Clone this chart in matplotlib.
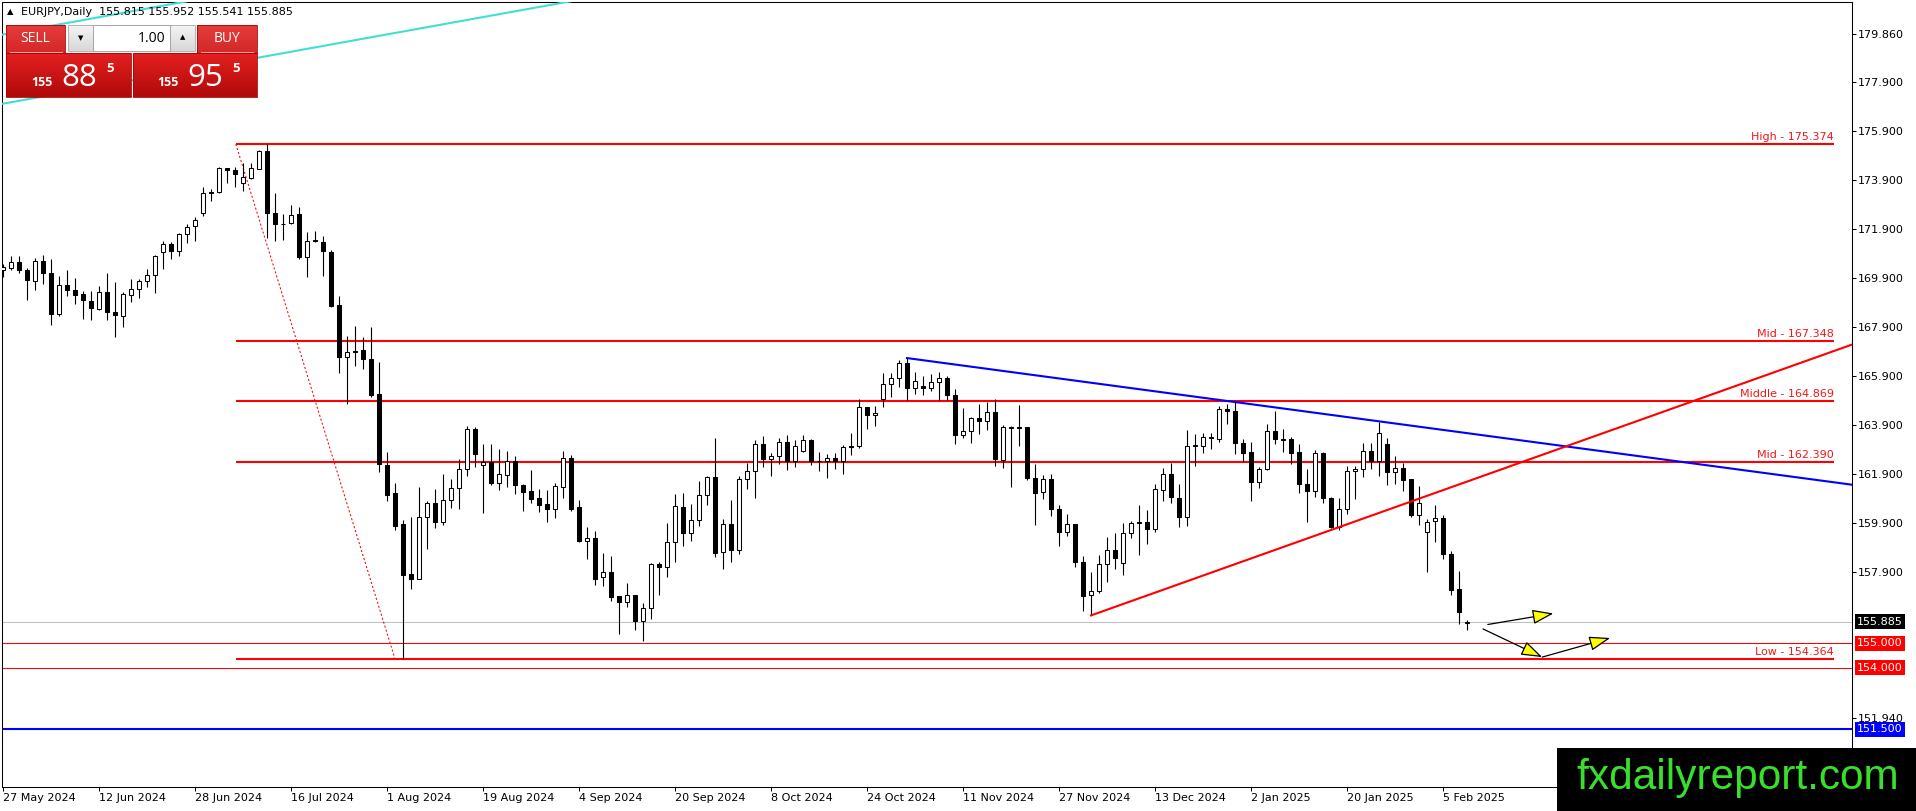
import numpy as np
import pandas as pd
import matplotlib
matplotlib.use('Agg')
import matplotlib.pyplot as plt
import matplotlib.transforms as mtransforms
from matplotlib.patches import Rectangle, FancyArrowPatch

plt.rcParams['font.family'] = ['DejaVu Sans']

# daily EURJPY candles, 27 May 2024 .. 10 Feb 2025
opens = [170.24, 170.31, 170.56, 170.25, 169.77, 170.61, 170.11, 168.44, 169.64, 169.42,
         169.27, 168.97, 168.66, 169.34, 168.54, 168.35, 169.20, 169.46, 169.77, 170.03,
         170.95, 171.30, 170.99, 171.69, 172.02, 172.55, 173.43, 173.40, 174.38, 174.31,
         173.78, 173.98, 174.35, 175.08, 172.56, 172.12, 172.15, 172.52, 170.77, 171.44,
         171.38, 170.97, 168.82, 166.70, 166.93, 166.95, 166.62, 165.16, 162.27, 161.14,
         159.86, 157.83, 157.64, 160.14, 160.73, 159.96, 160.83, 161.32, 162.13, 163.74,
         162.26, 162.39, 161.55, 161.89, 162.46, 161.45, 161.21, 160.92, 160.68, 160.47,
         161.39, 162.58, 160.57, 159.19, 159.29, 157.72, 157.92, 156.92, 156.70, 156.99,
         155.92, 156.46, 158.22, 158.12, 159.13, 160.55, 159.50, 160.04, 161.04, 161.77,
         158.73, 159.86, 158.80, 161.69, 162.03, 163.15, 162.53, 162.63, 163.23, 162.43,
         162.84, 163.28, 162.45, 162.44, 162.58, 162.44, 163.06, 163.05, 164.63, 164.30,
         164.96, 165.60, 165.82, 166.43, 165.40, 165.50, 165.40, 165.67, 165.82, 165.12,
         163.51, 163.68, 164.18, 164.08, 164.45, 162.50, 163.84, 163.82, 163.81, 161.76,
         161.16, 161.72, 160.49, 159.53, 159.88, 158.32, 156.97, 157.13, 158.24, 158.81,
         158.28, 159.50, 159.95, 159.94, 159.66, 161.26, 161.93, 160.92, 160.17, 163.06,
         163.06, 163.38, 163.33, 164.57, 164.50, 163.19, 162.80, 161.60, 162.10, 163.65,
         163.35, 163.33, 162.80, 161.49, 161.23, 162.78, 160.92, 159.73, 160.47, 162.03,
         162.10, 162.84, 162.45, 163.15, 162.00, 162.14, 161.70, 160.24, 159.54, 160.00,
         160.10, 158.66, 157.20, 155.815]
highs = [170.49, 170.79, 170.79, 170.31, 170.71, 170.84, 170.68, 170.00, 170.25, 169.90,
         169.36, 169.36, 169.57, 170.11, 169.74, 169.32, 169.86, 169.86, 170.28, 170.86,
         171.42, 171.36, 171.76, 172.12, 172.38, 173.60, 173.54, 174.45, 174.40, 174.45,
         174.59, 174.59, 175.12, 175.374, 173.37, 172.52, 172.90, 172.80, 171.79, 171.83,
         171.62, 171.05, 169.18, 167.56, 167.96, 167.48, 167.92, 166.50, 162.81, 161.55,
         160.03, 160.14, 161.36, 160.80, 161.28, 161.93, 161.72, 162.51, 163.86, 163.82,
         163.15, 163.12, 162.95, 162.84, 162.65, 161.50, 162.09, 161.28, 161.25, 161.56,
         162.84, 162.67, 160.84, 159.73, 159.59, 158.69, 158.58, 156.92, 157.47, 156.99,
         156.63, 158.28, 158.32, 159.93, 161.09, 161.12, 160.67, 161.62, 161.82, 163.39,
         160.08, 160.85, 161.82, 162.34, 163.31, 163.48, 162.77, 163.39, 163.52, 163.31,
         163.52, 163.35, 162.81, 162.71, 162.78, 163.08, 163.60, 164.96, 164.66, 164.70,
         166.05, 166.05, 166.57, 166.64, 166.09, 165.91, 165.99, 166.08, 165.91, 165.37,
         164.59, 164.25, 164.75, 164.83, 164.96, 163.91, 163.87, 164.72, 163.81, 162.33,
         161.86, 161.93, 160.63, 160.26, 159.88, 158.58, 157.91, 158.62, 159.34, 159.50,
         159.93, 159.98, 160.63, 160.44, 161.50, 162.14, 162.37, 161.49, 163.72, 163.55,
         163.58, 163.58, 164.67, 164.75, 164.83, 163.35, 163.22, 162.18, 163.96, 164.48,
         163.73, 163.42, 163.12, 162.13, 162.91, 162.81, 160.99, 160.92, 162.23, 162.23,
         163.18, 163.18, 164.03, 163.39, 162.64, 162.37, 161.70, 161.42, 160.07, 160.65,
         160.24, 158.78, 157.97, 155.952]
lows = [169.95, 170.22, 170.11, 169.00, 169.40, 169.68, 167.98, 168.35, 169.16, 168.86,
        168.25, 168.21, 168.59, 168.21, 167.50, 167.90, 168.92, 169.08, 169.54, 169.30,
        170.27, 170.68, 170.79, 171.33, 171.40, 172.44, 173.05, 173.36, 173.77, 173.63,
        173.45, 173.95, 174.35, 171.54, 171.42, 171.46, 172.10, 170.69, 169.96, 171.38,
        170.00, 168.74, 166.05, 164.75, 166.30, 166.18, 165.04, 161.99, 160.81, 159.62,
        154.364, 157.23, 157.61, 158.86, 159.71, 159.82, 160.54, 160.49, 161.83, 162.20,
        160.33, 161.48, 161.25, 161.39, 161.09, 160.41, 160.73, 160.37, 159.96, 160.12,
        160.95, 160.41, 159.14, 158.44, 157.38, 157.34, 156.73, 155.40, 156.50, 155.55,
        155.11, 155.99, 156.96, 157.70, 158.34, 158.96, 159.16, 159.80, 160.66, 158.51,
        158.04, 158.31, 158.66, 161.31, 160.95, 162.20, 161.84, 162.30, 162.09, 162.20,
        162.81, 162.27, 162.03, 161.76, 162.11, 161.93, 162.68, 162.98, 163.73, 163.88,
        164.63, 165.04, 165.45, 164.93, 165.16, 165.14, 165.31, 164.93, 164.93, 163.13,
        163.36, 163.18, 163.54, 163.70, 162.25, 162.17, 161.38, 163.06, 161.68, 159.84,
        160.90, 160.18, 158.99, 159.40, 158.10, 156.32, 156.14, 157.06, 157.51, 158.04,
        157.78, 159.29, 158.59, 159.05, 159.56, 160.81, 160.71, 159.74, 159.77, 162.23,
        162.77, 162.92, 163.22, 163.94, 162.74, 162.41, 160.82, 161.32, 162.07, 163.12,
        162.79, 162.31, 161.12, 159.97, 160.99, 160.71, 159.70, 159.63, 160.27, 160.88,
        161.80, 162.11, 161.84, 161.46, 161.49, 161.23, 160.15, 159.84, 157.90, 159.12,
        158.44, 156.97, 155.78, 155.541]
closes = [170.35, 170.56, 170.22, 169.81, 170.61, 170.11, 168.43, 169.64, 169.40, 169.23,
          169.00, 168.67, 169.34, 168.52, 168.40, 169.27, 169.45, 169.78, 170.01, 170.82,
          171.29, 171.00, 171.69, 172.00, 172.28, 173.36, 173.39, 174.38, 174.31, 174.17,
          174.02, 174.39, 175.08, 172.56, 172.11, 172.10, 172.48, 170.77, 171.42, 171.42,
          171.01, 168.78, 166.70, 166.90, 166.90, 166.62, 165.12, 162.31, 161.07, 159.80,
          157.80, 157.64, 160.14, 160.73, 159.96, 160.84, 161.32, 162.13, 163.74, 162.72,
          162.39, 161.55, 161.91, 162.46, 161.45, 161.18, 160.88, 160.64, 160.47, 161.41,
          162.58, 160.50, 159.19, 159.29, 157.64, 157.92, 156.90, 156.70, 156.99, 155.92,
          156.46, 158.22, 158.11, 159.13, 160.60, 159.50, 160.04, 161.04, 161.77, 158.68,
          159.86, 158.80, 161.70, 162.03, 163.15, 162.53, 162.63, 163.23, 162.43, 163.04,
          163.28, 162.43, 162.44, 162.58, 162.44, 163.03, 163.00, 164.63, 164.30, 164.38,
          165.60, 165.82, 166.43, 165.40, 165.71, 165.40, 165.67, 165.82, 165.12, 163.51,
          163.68, 164.18, 164.08, 164.45, 162.53, 163.84, 163.77, 163.77, 161.75, 161.13,
          161.72, 160.48, 159.53, 159.88, 158.30, 156.95, 157.13, 158.24, 158.81, 158.48,
          159.50, 159.90, 159.90, 159.66, 161.28, 161.93, 160.96, 160.17, 163.07, 163.08,
          163.40, 163.40, 164.57, 164.48, 163.18, 162.77, 161.60, 162.11, 163.65, 163.33,
          163.30, 162.77, 161.49, 161.23, 162.78, 160.92, 159.73, 160.47, 162.03, 162.11,
          162.84, 162.45, 163.60, 162.00, 162.14, 161.66, 160.24, 160.72, 159.97, 160.10,
          158.65, 157.17, 156.28, 155.885]

dates = pd.bdate_range('2024-05-27', '2025-02-10')
dates = dates[~dates.isin(pd.to_datetime(['2024-12-25', '2025-01-01']))]

date_labels = ['27 May 2024', '12 Jun 2024', '28 Jun 2024', '16 Jul 2024', '1 Aug 2024',
               '19 Aug 2024', '4 Sep 2024', '20 Sep 2024', '8 Oct 2024', '24 Oct 2024',
               '11 Nov 2024', '27 Nov 2024', '13 Dec 2024', '2 Jan 2025', '20 Jan 2025',
               '5 Feb 2025']
price_ticks = [179.860, 177.900, 175.900, 173.900, 171.900, 169.900, 167.900,
               165.900, 163.900, 161.900, 159.900, 157.900, 151.940]

# fibonacci retracement between the July high and the August low
fib_high = 175.374
fib_low = 154.364
fib_names = ['High', 'Mid', 'Middle', 'Mid', 'Low']
fib_ratios = [0.0, 0.382, 0.5, 0.618, 1.0]
fib_start_bar = 29.1
fib_end_bar = 228.9
fib_low_bar = 49.0

bid = 155.885
ask = 155.955
support_levels = [155.000, 154.000]
target_level = 151.500

# trend lines (bar index, price)
blue_line = [(113, 166.64), (231.2, 161.47)]
red_line = [(136, 156.14), (231.2, 167.20)]
cyan_lines = [[(-1, 176.96), (80, 181.73)], [(-1, 179.78), (40, 182.20)]]
# projected path arrows (bar index, price)
arrows = [[(185.6, 155.77), (193.8, 156.22)],
          [(185.0, 155.59), (192.4, 154.44)],
          [(192.4, 154.44), (200.9, 155.22)]]

W, H = 1916, 811
fig = plt.figure(figsize=(W / 100, H / 100), dpi=100)
fig.patch.set_facecolor('white')
ax = fig.add_axes([2 / W, 24 / H, 1850 / W, 785 / H])
ax.set_xlim(-0.125, 231.125)
ax.set_ylim(149.14, 181.168)

o = np.array(opens)
h = np.array(highs)
l = np.array(lows)
c = np.array(closes)
x = np.arange(len(o))
up = c >= o

# fib levels
for name, r in zip(fib_names, fib_ratios):
    lev = round(fib_high - (fib_high - fib_low) * r, 3)
    ax.hlines(lev, fib_start_bar, fib_end_bar, color='#ff0000', lw=1.5, zorder=2)
    ax.annotate(f'{name} - {lev:.3f}', (fib_end_bar, lev), xytext=(0, 1.5),
                textcoords='offset points', ha='right', va='bottom',
                color='#f01818', fontsize=8, zorder=6)
ax.plot([fib_start_bar, fib_low_bar], [fib_high, fib_low], color='#ff0000',
        lw=0.75, ls=(0, (2, 2)), zorder=2)

ax.axhline(bid, color='#c0c0c0', lw=0.75, zorder=1)
for s in support_levels:
    ax.axhline(s, color='#ff0000', lw=0.75, zorder=1)
ax.axhline(target_level, color='#0000ff', lw=1.5, zorder=1)

# candles
ax.vlines(x, l, h, color='black', lw=0.8, zorder=3)
ax.bar(x, np.abs(c - o), 0.62, bottom=np.minimum(o, c),
       color=np.where(up, 'white', 'black'), edgecolor='black', lw=0.75, zorder=4)

# trend lines
for pts, col in [(blue_line, '#0000ff'), (red_line, '#ff0000')]:
    ax.plot([p[0] for p in pts], [p[1] for p in pts], color=col, lw=1.5, zorder=5)
for pts in cyan_lines:
    ax.plot([p[0] for p in pts], [p[1] for p in pts], color='#40e0d0', lw=1.5, zorder=5)

for (x0, y0), (x1, y1) in arrows:
    ax.add_patch(FancyArrowPatch((x0, y0), (x1, y1),
                                 arrowstyle='-|>,head_length=1.3,head_width=0.45',
                                 mutation_scale=10, lw=0.9, edgecolor='black',
                                 facecolor='#ffff00', zorder=6, shrinkA=0, shrinkB=0))

# axes styling
for sp in ax.spines.values():
    sp.set_linewidth(0.75)
ax.yaxis.tick_right()
ax.set_yticks(price_ticks)
ax.set_yticklabels([f'{v:.3f}' for v in price_ticks])
tick_pos = [dates.get_loc(pd.to_datetime(s, format='%d %b %Y')) for s in date_labels]
ax.set_xticks(tick_pos)
ax.set_xticklabels(date_labels, ha='left')
ax.tick_params(axis='both', labelsize=8, length=3, width=0.75, pad=1.5, colors='black')

blend = mtransforms.blended_transform_factory(ax.transAxes, ax.transData)
for val, col in [(bid, 'black'), (support_levels[0], '#ff0000'),
                 (support_levels[1], '#ff0000'), (target_level, '#0000ff')]:
    ax.text(1.0 + 5 / 1850, val, f'{val:.3f}', transform=blend, ha='left', va='center',
            color='white', fontsize=8, clip_on=False, zorder=10,
            bbox=dict(boxstyle='square,pad=0.22', fc=col, ec='none'))

# header and trading panel in pixel coordinates
ov = fig.add_axes([0, 0, 1, 1])
ov.set_xlim(0, W)
ov.set_ylim(H, 0)
ov.axis('off')
ov.set_zorder(10)

ov.text(7, 12, '\u25b2', fontsize=6, va='center', ha='left')
ov.text(21, 12, f'EURJPY,Daily  {opens[-1]:.3f} {highs[-1]:.3f} {lows[-1]:.3f} {closes[-1]:.3f}',
        fontsize=8, va='center', ha='left')


def grad_box(x0, y0, x1, y1, top, bottom, edge='#b00000'):
    g = np.linspace(0, 1, 64)[:, None, None]
    t = np.array(matplotlib.colors.to_rgb(top))
    b = np.array(matplotlib.colors.to_rgb(bottom))
    img = t * (1 - g) + b * g
    ov.imshow(img, extent=(x0, x1, y1, y0), aspect='auto', interpolation='bilinear', zorder=1)
    ov.add_patch(Rectangle((x0, y0), x1 - x0, y1 - y0, fill=False, ec=edge, lw=0.6, zorder=2))


grad_box(6, 25, 65, 53, '#e43c3c', '#d42828')
grad_box(197, 25, 257, 53, '#e43c3c', '#d42828')
grad_box(6, 53, 131, 97, '#e42020', '#b00a0a')
grad_box(133, 53, 257, 97, '#e42020', '#b00a0a')
ov.plot([10, 62], [52, 52], color='#f2a0a0', lw=0.75, zorder=3)
ov.plot([201, 253], [52, 52], color='#f2a0a0', lw=0.75, zorder=3)
grad_box(68, 25, 93, 51, '#f4f4f4', '#d8d8d8', edge='#a8a8a8')
ov.add_patch(Rectangle((93, 25), 77, 26, fc='white', ec='#a8a8a8', lw=0.75, zorder=2))
grad_box(170, 25, 195, 51, '#f4f4f4', '#d8d8d8', edge='#a8a8a8')
ov.text(80.5, 38, '\u25bc', fontsize=5, ha='center', va='center', zorder=3)
ov.text(182.5, 37, '\u25b2', fontsize=5, ha='center', va='center', zorder=3)
ov.text(165, 38.5, '1.00', fontsize=10, ha='right', va='center', zorder=3,
        family='Open Sans')
ov.text(35, 39, 'SELL', fontsize=10, ha='center', va='center', color='white', zorder=3,
        family='Open Sans')
ov.text(227, 39, 'BUY', fontsize=10, ha='center', va='center', color='white', zorder=3,
        family='Open Sans')

for price, x_small, x_big, x_sup in [(bid, 31, 61, 106), (ask, 157, 187, 232)]:
    s = f'{price:.3f}'
    big, small = s.split('.')
    ov.text(x_small, 86, big, fontsize=9, fontweight='bold', color='white', zorder=3,
            va='baseline', family='Open Sans')
    ov.text(x_big, 86, small[:2], fontsize=22.5, color='white', zorder=3, va='baseline',
            family='Open Sans')
    ov.text(x_sup, 71.5, small[2], fontsize=9.5, fontweight='bold', color='white', zorder=3,
            va='baseline', family='Open Sans')

# watermark
ov.add_patch(Rectangle((1557, 748), W - 1557, H - 748, fc='black', ec='none', zorder=4))
ov.text(1576, 789, 'fxdailyreport.com', fontsize=30.5, color='#38e02c', va='baseline',
        ha='left', family='Liberation Sans', zorder=5)

fig.savefig('out.png', dpi=100)
